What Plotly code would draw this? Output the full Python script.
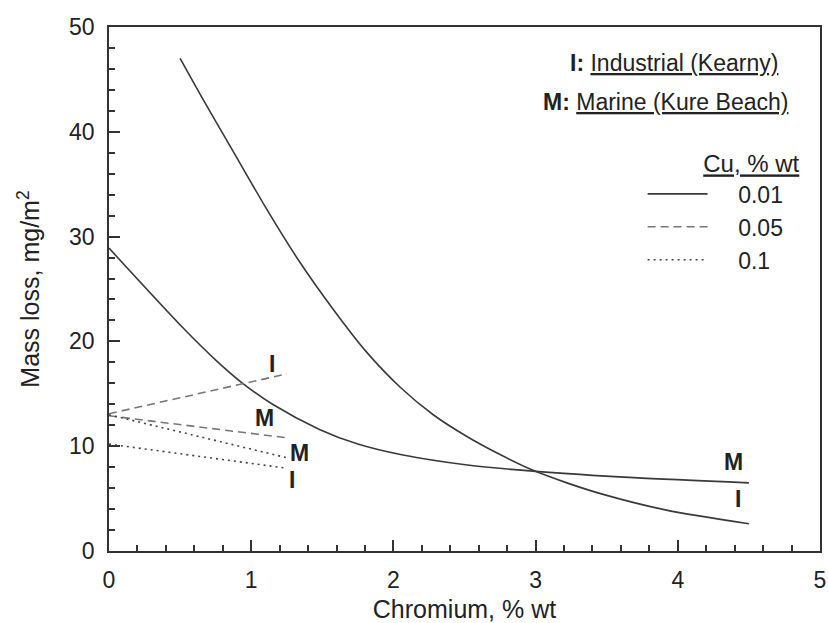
import plotly.graph_objects as go

# ---- data ----
# Solid lines (Cu 0.01 % wt)
ind_001_x = [0.50, 0.64, 0.87, 1.11, 1.34, 1.58, 1.81, 2.05, 2.28, 2.52, 2.75, 3.00, 3.22, 3.45, 3.92, 4.50]
ind_001_y = [47.0, 43.6, 38.2, 32.6, 27.6, 23.0, 19.0, 15.6, 13.0, 10.9, 9.2, 7.6, 6.5, 5.5, 3.9, 2.6]
mar_001_x = [0.00, 0.52, 0.76, 0.94, 1.15, 1.48, 1.75, 2.05, 2.52, 3.00, 3.69, 4.50]
mar_001_y = [28.9, 21.3, 18.1, 16.0, 14.0, 11.6, 10.2, 9.2, 8.2, 7.6, 7.0, 6.5]
# Dashed lines (Cu 0.05 % wt)
ind_005_x = [0.0, 1.25]
ind_005_y = [13.1, 16.9]
mar_005_x = [0.0, 1.25]
mar_005_y = [12.9, 10.8]
# Dotted lines (Cu 0.1 % wt)
mar_01_x = [0.0, 1.25]
mar_01_y = [13.0, 8.9]
ind_01_x = [0.0, 1.25]
ind_01_y = [10.2, 7.9]

cu_labels = ["0.01", "0.05", "0.1"]
x_ticks = [0, 1, 2, 3, 4, 5]
y_ticks = [0, 10, 20, 30, 40, 50]

# curve labels (text, x, y)
curve_labels = [
    ("I", 1.146, 17.8),
    ("M", 1.09, 12.7),
    ("M", 1.34, 9.35),
    ("I", 1.29, 6.8),
    ("M", 4.39, 8.5),
    ("I", 4.42, 5.0),
]

FONT = "Liberation Sans, Arial, sans-serif"
TXT = "#222222"
PAD = "\u00a0" * 4
TAIL = "\u00a0" * 2

fig = go.Figure()

series = [
    (ind_001_x, ind_001_y, cu_labels[0], "solid", "#3a3a3a", True, "spline"),
    (mar_001_x, mar_001_y, cu_labels[0], "solid", "#3a3a3a", False, "spline"),
    (ind_005_x, ind_005_y, cu_labels[1], "8px,5px", "#777777", True, "linear"),
    (mar_005_x, mar_005_y, cu_labels[1], "8px,5px", "#777777", False, "linear"),
    (mar_01_x, mar_01_y, cu_labels[2], "2px,4px", "#444444", True, "linear"),
    (ind_01_x, ind_01_y, cu_labels[2], "2px,4px", "#444444", False, "linear"),
]
for xs, ys, name, dash, col, show, shape in series:
    fig.add_trace(go.Scatter(
        x=xs, y=ys, mode="lines",
        name=PAD + name + TAIL,
        legendgroup=name, showlegend=show,
        line=dict(color=col, width=1.6, dash=dash, shape=shape, smoothing=0.8),
    ))

for t, x, y in curve_labels:
    fig.add_annotation(x=x, y=y, text="<b>" + t + "</b>", showarrow=False,
                       font=dict(family=FONT, size=23, color=TXT),
                       xanchor="center", yanchor="middle")

fig.add_annotation(xref="paper", yref="paper", x=0.646, y=0.931,
                   text="<b>I:</b> <u>Industrial (Kearny)</u>", showarrow=False,
                   xanchor="left", yanchor="middle",
                   font=dict(family=FONT, size=23, color=TXT))
fig.add_annotation(xref="paper", yref="paper", x=0.608, y=0.857,
                   text="<b>M:</b> <u>Marine (Kure Beach)</u>", showarrow=False,
                   xanchor="left", yanchor="middle",
                   font=dict(family=FONT, size=23, color=TXT))

axis_common = dict(
    showline=True, linecolor="#333333", linewidth=1.8, mirror=True,
    ticks="inside", ticklen=11, tickwidth=1.8, tickcolor="#333333",
    showgrid=False, zeroline=False, automargin=False,
    tickfont=dict(family=FONT, size=23, color=TXT),
    title_font=dict(family=FONT, size=25, color=TXT),
)

fig.update_xaxes(range=[0, 5], tickvals=x_ticks, ticktext=[str(v) for v in x_ticks],
                 minor=dict(ticks="inside", ticklen=6, tickwidth=1.5, tickcolor="#333333", dtick=0.2),
                 title_text="Chromium, % wt", title_standoff=12, ticklabelstandoff=7,
                 **axis_common)
fig.update_yaxes(range=[0, 50], tickvals=y_ticks, ticktext=[str(v) for v in y_ticks],
                 minor=dict(ticks="inside", ticklen=6, tickwidth=1.5, tickcolor="#333333", dtick=2),
                 title_text="Mass loss, mg/m<sup>2</sup>", title_standoff=22, ticklabelstandoff=8,
                 **axis_common)

fig.update_layout(
    width=828, height=623,
    margin=dict(l=109, r=8, t=27, b=72),
    paper_bgcolor="white", plot_bgcolor="white",
    font=dict(family=FONT, color=TXT),
    legend=dict(
        x=0.7505, y=0.782, xanchor="left", yanchor="top",
        bgcolor="rgba(0,0,0,0)", itemwidth=60,
        font=dict(family=FONT, size=23, color=TXT),
        title=dict(text="<u>Cu, % wt</u>", side="top right",
                   font=dict(family=FONT, size=24, color=TXT)),
        tracegroupgap=0,
    ),
)

fig.write_html("out.html")
